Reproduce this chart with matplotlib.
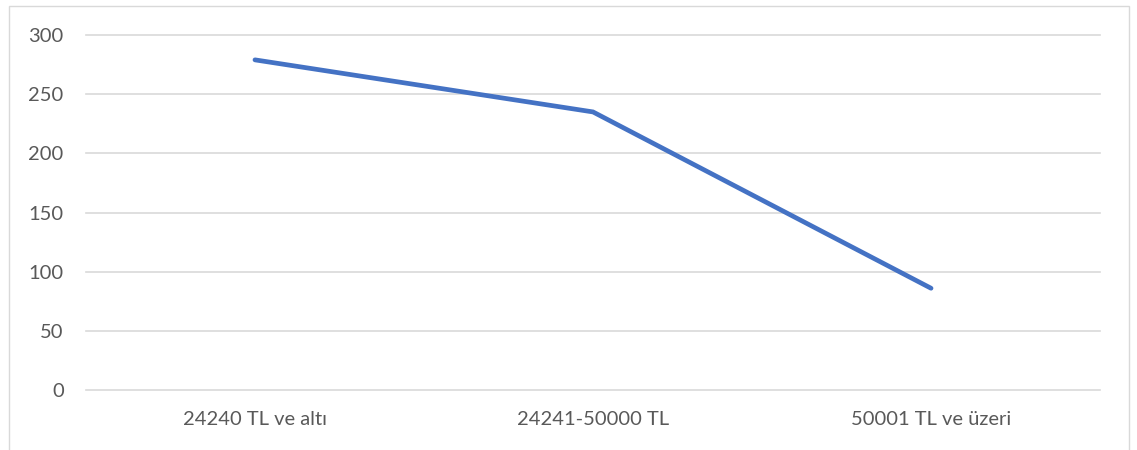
import matplotlib
matplotlib.use('Agg')
import matplotlib.pyplot as plt
from matplotlib.patches import Rectangle

# ── Data ──────────────────────────────────────────────────────────────────────
income_groups = ["24240 TL ve altı", "24241-50000 TL", "50001 TL ve üzeri"]
counts = [279, 235, 86]
y_ticks = [0, 50, 100, 150, 200, 250, 300]

LINE = "#4472C4"
GRID = "#D9D9D9"
TXT = "#595959"

plt.rcParams['font.family'] = ['Lato', 'DejaVu Sans']

fig = plt.figure(figsize=(11.37, 4.5), dpi=100, facecolor="white")
ax = fig.add_axes([0.0756, 0.1333, 0.8919, 0.7889])

x = range(len(income_groups))
ax.plot(x, counts, color=LINE, lw=3.4, solid_capstyle='round',
        solid_joinstyle='miter', zorder=3)

ax.set_xlim(-0.5, len(income_groups) - 0.5)
ax.set_ylim(0, 300)
ax.set_yticks(y_ticks)
ax.set_xticks(list(x))
ax.set_xticklabels(income_groups)

ax.grid(axis='y', color=GRID, lw=1.2, zorder=0)
for gl in ax.get_ygridlines():
    gl.set_clip_on(False)
ax.set_axisbelow(True)
for s in ax.spines.values():
    s.set_visible(False)
ax.tick_params(axis='y', length=0, pad=16, labelsize=14.5, labelcolor=TXT)
ax.tick_params(axis='x', length=0, pad=15, labelsize=14.5, labelcolor=TXT)

# chart-area frame, open at the bottom
fig.add_artist(Rectangle((9 / 1137, -0.1), 1120 / 1137, 1.1 - 6 / 450,
                         transform=fig.transFigure, fill=False,
                         edgecolor=GRID, lw=1.0))

fig.savefig("out.png", dpi=100, facecolor="white")
